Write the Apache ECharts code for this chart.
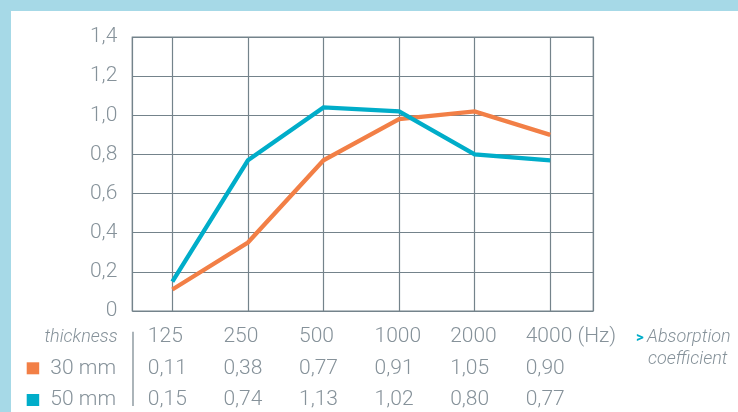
<!DOCTYPE html>
<html><head><meta charset="utf-8">
<script src="https://cdn.jsdelivr.net/npm/echarts@6/dist/echarts.min.js"></script>
<style>html,body{margin:0;padding:0;background:#fff}#c{width:738px;height:412px}</style>
</head><body><div id="c"></div>
<script>
const frequencies = ['125', '250', '500', '1000', '2000', '4000'];
const freqUnit = '(Hz)';
const seriesNames = ['30 mm', '50 mm'];
const curve30 = [0.11, 0.35, 0.77, 0.98, 1.02, 0.90];
const curve50 = [0.15, 0.77, 1.04, 1.02, 0.80, 0.77];
const table30 = ['0,11', '0,38', '0,77', '0,91', '1,05', '0,90'];
const table50 = ['0,15', '0,74', '1,13', '1,02', '0,80', '0,77'];
const yTickLabels = ['0', '0,2', '0,4', '0,6', '0,8', '1,0', '1,2', '1,4'];
const headerLabel = 'thickness';
const quantityLabel = ['Absorption', 'coefficient'];

const ORANGE = '#f27f46', BLUE = '#00adc9', GRID = '#74838b', TEXT = '#86929a', FRAME = '#a6d9e7';
const FONT = 'Roboto';

const chart = echarts.init(document.getElementById('c'), null, {renderer: 'canvas'});
chart.setOption({
  backgroundColor: '#fff',
  animation: false,
  grid: {left: 132.3, top: 37, right: 144.7, bottom: 101, show: true, borderColor: GRID, borderWidth: 1.2, backgroundColor: 'transparent'},
  xAxis: {
    type: 'value', min: -0.53, max: 5.57, minInterval: 1, maxInterval: 1,
    axisLine: {show: false}, axisTick: {show: false}, axisLabel: {show: false},
    splitLine: {show: true, lineStyle: {color: GRID, width: 1.2}}
  },
  yAxis: {
    type: 'value', min: 0, max: 1.4, interval: 0.2,
    axisLine: {show: false}, axisTick: {show: false},
    axisLabel: {
      margin: 15, color: TEXT, fontSize: 21, fontFamily: FONT, fontWeight: 300,
      formatter: v => yTickLabels[Math.round(v / 0.2)] ?? ''
    },
    splitLine: {show: true, lineStyle: {color: GRID, width: 1.2}}
  },
  series: [
    {name: seriesNames[0], type: 'line', symbol: 'none', data: curve30.map((v, i) => [i, v]),
     lineStyle: {color: ORANGE, width: 4.3, join: 'miter'}, itemStyle: {color: ORANGE}, z: 3},
    {name: seriesNames[1], type: 'line', symbol: 'none', data: curve50.map((v, i) => [i, v]),
     lineStyle: {color: BLUE, width: 4.3, join: 'miter'}, itemStyle: {color: BLUE}, z: 4}
  ]
});

const rowY = [337, 368.5, 400];
const colX = frequencies.map((f, i) => chart.convertToPixel({xAxisIndex: 0}, i) - 24.5);
const txt = (text, x, y, opts) => ({
  type: 'text', x: x, y: y, silent: true,
  style: Object.assign({text: text, fill: TEXT, font: '300 21px ' + FONT, align: 'left', verticalAlign: 'middle'}, opts || {})
});
const ITALIC = 'italic 300 18px ' + FONT;
const g = [
  {type: 'rect', shape: {x: 0, y: 0, width: 738, height: 11}, style: {fill: FRAME}, silent: true},
  {type: 'rect', shape: {x: 0, y: 0, width: 11, height: 412}, style: {fill: FRAME}, silent: true},
  {type: 'line', shape: {x1: 133, y1: 331.7, x2: 133, y2: 406}, style: {stroke: GRID, lineWidth: 1.2}, silent: true},
  {type: 'rect', shape: {x: 26.7, y: 362.3, width: 12.5, height: 12}, style: {fill: ORANGE}, silent: true},
  {type: 'rect', shape: {x: 26.7, y: 394, width: 12.5, height: 12}, style: {fill: BLUE}, silent: true},
  txt(headerLabel, 117.5, rowY[0], {align: 'right', font: ITALIC}),
  txt(seriesNames[0], 116, rowY[1], {align: 'right'}),
  txt(seriesNames[1], 116, rowY[2], {align: 'right'}),
  txt('>', 636, rowY[0] + 1, {fill: BLUE, font: 'bold 15px ' + FONT}),
  txt(quantityLabel[0], 647, rowY[0], {font: ITALIC}),
  txt(quantityLabel[1], 648, rowY[0] + 22, {font: ITALIC})
];
frequencies.forEach((f, i) => {
  g.push(txt(i === frequencies.length - 1 ? f + ' ' + freqUnit : f, colX[i], rowY[0]));
  g.push(txt(table30[i], colX[i], rowY[1]));
  g.push(txt(table50[i], colX[i], rowY[2]));
});
chart.setOption({graphic: g});
</script>
</body></html>
